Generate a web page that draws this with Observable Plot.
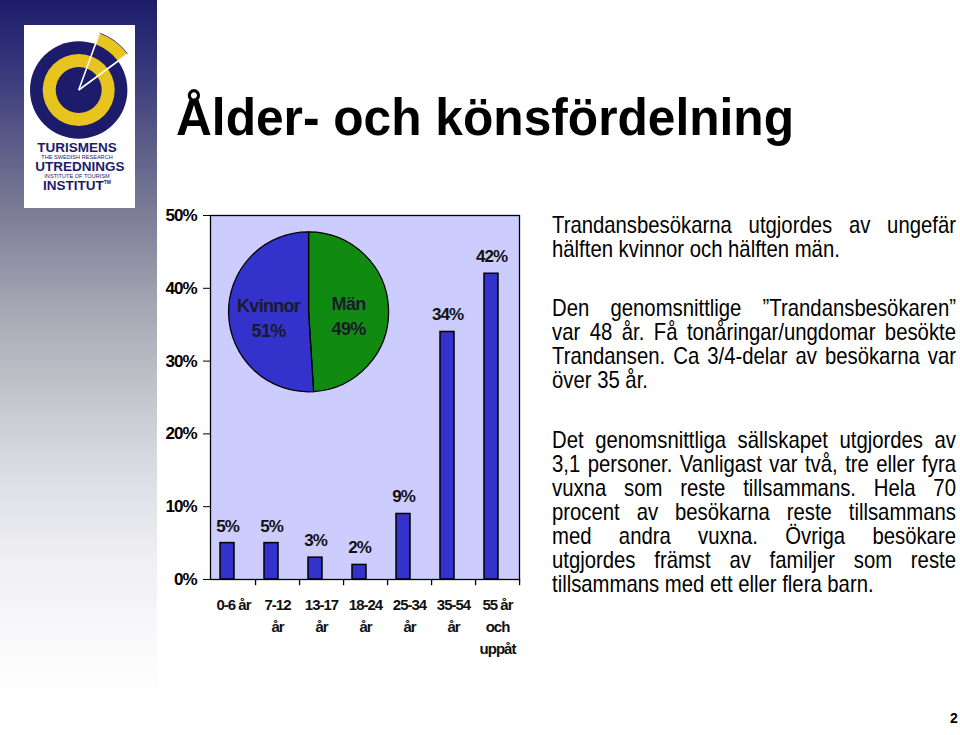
<!DOCTYPE html>
<html>
<head>
<meta charset="utf-8">
<script src="https://cdn.jsdelivr.net/npm/d3@7"></script>
<script src="https://cdn.jsdelivr.net/npm/@observablehq/plot@0.6"></script>
<style>
  html, body { margin: 0; padding: 0; background: #fff; }
  #page { position: relative; width: 960px; height: 735px; overflow: hidden; background: #fff;
    font-family: "Liberation Sans", Arial, sans-serif; }
  #sidebar { position: absolute; left: 0; top: 0; width: 157px; height: 735px;
    background: linear-gradient(to bottom, #1c1c6a 0px, #33337a 60px, #5a5a88 140px, #7b7b95 210px, #a2a4b2 300px, #c5c7cc 400px, #dedfe5 480px, #efeff4 560px, #f8f8fa 630px, #ffffff 700px); }
  #logo { position: absolute; left: 24px; top: 25px; width: 111px; height: 183px; background: #fff; }
  #title { position: absolute; left: 176px; top: 91px; font-weight: bold; font-size: 52px; line-height: 52px; white-space: nowrap; color: #000;
    transform: scaleX(0.955); transform-origin: 0 0; }
  .para { position: absolute; left: 552px; width: 404px; font-size: 24px; line-height: 24px; color: #000; }
  .para div { white-space: nowrap; text-align: justify; text-align-last: justify; width: 477.5px;
    transform: scaleX(0.846); transform-origin: 0 0; height: 24px; }
  .para div.last { text-align: left; text-align-last: left; }
  #pagenum { position: absolute; left: 950px; top: 710px; font-weight: bold; font-size: 14px; }
  #chart { position: absolute; left: 150px; top: 200px; }
</style>
</head>
<body>
<div id="page">
  <div id="sidebar"></div>
  <div id="logo">
    <svg width="111" height="183" viewBox="0 0 111 183">
      <g transform="translate(54.7,65)">
        <path d="M0,0 L20.8,-57 A60.7,60.7 0 0 1 49,-36 Z" fill="#e8c41f" stroke="#1c1c6a" stroke-width="0.8"/>
        <circle r="48.7" fill="#1c1c6a"/>
        <circle r="36" fill="#e8c41f"/>
        <circle r="23" fill="#1c1c6a"/>
        <line x1="0" y1="0" x2="20.8" y2="-57" stroke="#fff" stroke-width="1.6"/>
        <line x1="0" y1="0" x2="49" y2="-36" stroke="#fff" stroke-width="1.6"/>
      </g>
      <g font-family="Liberation Sans, Arial, sans-serif" fill="#1c1c6a" text-anchor="middle">
        <text x="53" y="127" font-weight="bold" font-size="13.5">TURISMENS</text>
        <text x="53" y="134" font-size="5.6">THE SWEDISH RESEARCH</text>
        <text x="56" y="146" font-weight="bold" font-size="13.5">UTREDNINGS</text>
        <text x="53" y="153" font-size="5.6">INSTITUTE OF TOURISM</text>
        <text x="53" y="165" font-weight="bold" font-size="13.5">INSTITUT<tspan font-size="5" dy="-6">TM</tspan></text>
      </g>
    </svg>
  </div>
  <div id="title">Ålder- och könsfördelning</div>
  <div class="para" style="top:213px">
    <div>Trandansbesökarna utgjordes av ungefär</div>
    <div class="last">hälften kvinnor och hälften män.</div>
  </div>
  <div class="para" style="top:296px">
    <div>Den genomsnittlige ”Trandansbesökaren”</div>
    <div>var 48 år. Få tonåringar/ungdomar besökte</div>
    <div>Trandansen. Ca 3/4-delar av besökarna var</div>
    <div class="last">över 35 år.</div>
  </div>
  <div class="para" style="top:428px">
    <div>Det genomsnittliga sällskapet utgjordes av</div>
    <div>3,1 personer. Vanligast var två, tre eller fyra</div>
    <div>vuxna som reste tillsammans. Hela 70</div>
    <div>procent av besökarna reste tillsammans</div>
    <div>med andra vuxna. Övriga besökare</div>
    <div>utgjordes främst av familjer som reste</div>
    <div class="last">tillsammans med ett eller flera barn.</div>
  </div>
  <div id="chart"></div>
  <div id="pagenum">2</div>
</div>
<script>
// ---- Data ----
const ageGroups = ["0-6 år", "7-12 år", "13-17 år", "18-24 år", "25-34 år", "35-54 år", "55 år och uppåt"];
const ageLabels = ["0-6 år", "7-12\når", "13-17\når", "18-24\når", "25-34\når", "35-54\når", "55 år\noch\nuppåt"];
const agePercent = [5, 5, 3, 2, 9, 34, 42];
const yTicks = [0, 10, 20, 30, 40, 50];
const genderNames = ["Män", "Kvinnor"];
const genderPercent = [49, 51];
const genderColors = ["#108a10", "#3333cc"];

const ageData = ageGroups.map((g, i) => ({group: g, label: ageLabels[i], pct: agePercent[i]}));
const genderData = genderNames.map((n, i) => ({name: n, value: genderPercent[i], color: genderColors[i]}));

// ---- Layout ----
const W = 390, H = 470, mL = 60, mR = 21, mT = 15, mB = 91;
const bandW = (W - mL - mR) / ageGroups.length;
const insetL = 9, insetR = 21;
const F = '"Liberation Sans", Arial, sans-serif';

function pieMark(index, scales, values, dimensions) {
  const {width, height, marginLeft, marginRight, marginTop, marginBottom} = dimensions;
  const cx = marginLeft + 0.319 * (width - marginLeft - marginRight);
  const cy = marginTop + 0.266 * (height - marginTop - marginBottom);
  const r = 80;
  const arcs = d3.pie().sort(null).value(d => d.value).startAngle(0)(genderData);
  const arc = d3.arc().innerRadius(0).outerRadius(r);
  const g = d3.create("svg:g").attr("transform", `translate(${cx},${cy})`);
  g.selectAll("path").data(arcs).join("path")
    .attr("d", arc).attr("fill", d => d.data.color)
    .attr("stroke", "#000").attr("stroke-width", 1.3);
  const t = g.selectAll("text").data(arcs).join("text")
    .attr("transform", d => { const [x, y] = arc.centroid(d); return `translate(${x},${y})`; })
    .attr("text-anchor", "middle").attr("font-size", 18).attr("font-weight", "bold")
    .attr("fill", "#1a1a2a").attr("font-family", F).attr("letter-spacing", "-0.7px");
  t.append("tspan").attr("x", 0).attr("dy", "-0.05em").text(d => d.data.name);
  t.append("tspan").attr("x", 0).attr("dy", "1.4em").text(d => d.data.value + "%");
  return g.node();
}

const chart = Plot.plot({
  width: W, height: H,
  marginLeft: mL, marginRight: mR, marginTop: mT, marginBottom: mB,
  style: {fontFamily: F, fontSize: "17px", fontWeight: "bold", letterSpacing: "-1px", background: "transparent", overflow: "visible", color: "#000"},
  x: {domain: ageGroups, padding: 0, axis: null},
  y: {domain: [0, 50], ticks: yTicks, tickFormat: d => d + "%", tickSize: 7, tickPadding: 7, label: null},
  marks: [
    Plot.frame({fill: "#ccccff", stroke: "#000", strokeWidth: 1.3}),
    Plot.ruleX(ageData, {x: "group", dx: bandW / 2, y1: 0, y2: -0.85, stroke: "#000", strokeWidth: 1.3}),
    Plot.barY(ageData, {x: "group", y: "pct", fill: "#3333cc", stroke: "#000", strokeWidth: 1.5, insetLeft: insetL, insetRight: insetR}),
    Plot.text(ageData, {x: "group", y: "pct", text: d => d.pct + "%", dx: (insetL - insetR) / 2, dy: -17, fontSize: 17, fontWeight: "bold", fill: "#111"}),
    Plot.text(ageData, {x: "group", text: "label", frameAnchor: "bottom", lineAnchor: "top", dy: 15, lineHeight: 1.47, fontSize: 15, fontWeight: "bold", fill: "#111"}),
    pieMark
  ]
});
document.getElementById("chart").appendChild(chart);
</script>
</body>
</html>
